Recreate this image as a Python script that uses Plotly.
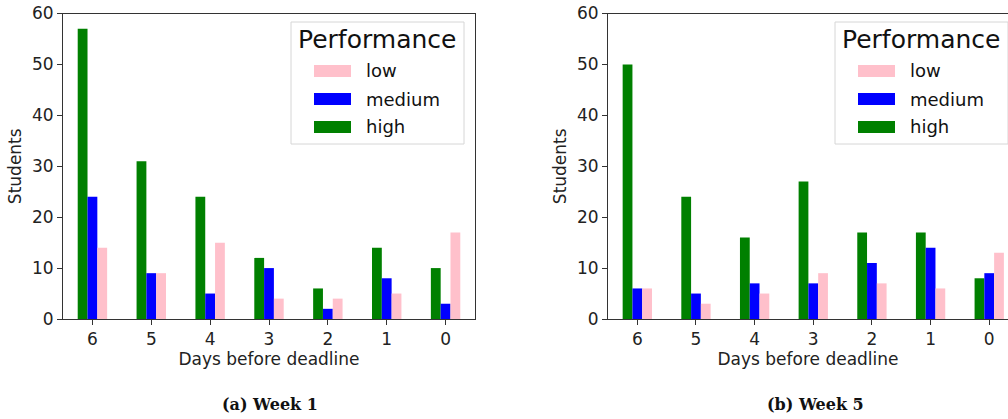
import plotly.graph_objects as go

W, H = 1008, 419

days = ["6", "5", "4", "3", "2", "1", "0"]
week1_high = [57, 31, 24, 12, 6, 14, 10]
week1_medium = [24, 9, 5, 10, 2, 8, 3]
week1_low = [14, 9, 15, 4, 4, 5, 17]
week5_high = [50, 24, 16, 27, 17, 17, 8]
week5_medium = [6, 5, 7, 7, 11, 14, 9]
week5_low = [6, 3, 5, 9, 7, 6, 13]

series_names = ["low", "medium", "high"]
colors = {"low": "#ffc0cb", "medium": "#0000ff", "high": "#008000"}
captions = ["(a) Week 1", "(b) Week 5"]

FONT = "DejaVu Sans"
AX = "#333333"


def px(x):
    return x / W


def py(y):
    return 1 - y / H


fig = go.Figure()
panels = [
    ("x", "y", week1_high, week1_medium, week1_low),
    ("x2", "y2", week5_high, week5_medium, week5_low),
]
for xa, ya, hi, me, lo in panels:
    for name, vals in (("high", hi), ("medium", me), ("low", lo)):
        fig.add_trace(go.Bar(x=days, y=vals, name=name, marker_color=colors[name],
                             marker_line_width=0, xaxis=xa, yaxis=ya, showlegend=False))

ydom = [py(319), py(13.5)]
axis_common = dict(showline=True, linecolor=AX, linewidth=1, ticks="outside", ticklen=5,
                   tickcolor=AX, tickfont=dict(family=FONT, size=17, color="#222"),
                   showgrid=False, zeroline=False, automargin=False)
xtitle = dict(text="Days before deadline", font=dict(family=FONT, size=17, color="#222"), standoff=4)
ytitle = dict(text="Students", font=dict(family=FONT, size=17, color="#222"), standoff=6)
fig.update_layout(
    template="none",
    width=W, height=H, margin=dict(l=0, r=0, t=0, b=0, pad=0, autoexpand=False),
    paper_bgcolor="white", plot_bgcolor="white",
    barmode="group", bargap=0.5, bargroupgap=0,
    font=dict(family=FONT, color="#222"),
    showlegend=False,
    xaxis=dict(domain=[px(63), px(475)], type="category", range=[-0.5, 6.5], mirror=True,
               title=xtitle, anchor="y", **axis_common),
    yaxis=dict(domain=ydom, range=[0, 60], dtick=10, mirror=True, anchor="x",
               title=ytitle, **axis_common),
    xaxis2=dict(domain=[px(608), 1.0], type="category", range=[-0.5, 6.32], mirror=True,
                title=xtitle, anchor="y2", **axis_common),
    yaxis2=dict(domain=ydom, range=[0, 60], dtick=10, mirror=False, anchor="x2",
                title=ytitle, **axis_common),
)

shapes = []
annotations = []
# manual legends (matplotlib style), one per panel
for box_left in (291, 835):
    shapes.append(dict(type="rect", xref="paper", yref="paper",
                       x0=px(box_left), x1=px(box_left + 173), y0=py(144), y1=py(22),
                       line=dict(color="#d6d6d6", width=1), fillcolor="rgba(255,255,255,0.8)",
                       layer="above"))
    annotations.append(dict(text="Performance", xref="paper", yref="paper",
                            x=px(box_left + 5), y=py(40), xanchor="left", yanchor="middle",
                            showarrow=False, font=dict(family=FONT, size=25, color="#111")))
    for i, name in enumerate(series_names):
        cy = 71 + 28 * i
        shapes.append(dict(type="rect", xref="paper", yref="paper",
                           x0=px(box_left + 23), x1=px(box_left + 60), y0=py(cy + 6), y1=py(cy - 6),
                           line=dict(width=0), fillcolor=colors[name], layer="above"))
        annotations.append(dict(text=name, xref="paper", yref="paper",
                                x=px(box_left + 73), y=py(cy), xanchor="left", yanchor="middle",
                                showarrow=False, font=dict(family=FONT, size=18, color="#111")))

for cx, cap in zip((270, 815), captions):
    annotations.append(dict(text="<b>%s</b>" % cap, xref="paper", yref="paper",
                            x=px(cx), y=py(404), xanchor="center", yanchor="middle",
                            showarrow=False, font=dict(family="DejaVu Serif", size=16, color="#111")))

fig.update_layout(shapes=shapes, annotations=annotations)
fig.write_html("out.html")
